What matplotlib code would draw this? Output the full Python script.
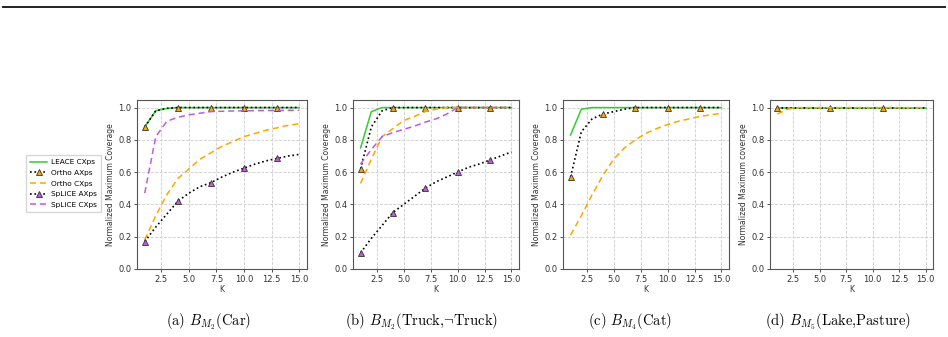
import matplotlib
matplotlib.use("Agg")
import matplotlib.pyplot as plt
from matplotlib.lines import Line2D

plt.rcParams['mathtext.fontset'] = 'cm'

K = list(range(1, 16))

# Panel (a)
a_leace_cx = [0.88, 0.98, 0.995, 1.0, 1.0, 1.0, 1.0, 1.0, 1.0, 1.0, 1.0, 1.0, 1.0, 1.0, 1.0]
a_ortho_ax = [0.88, 0.98, 0.995, 1.0, 1.0, 1.0, 1.0, 1.0, 1.0, 1.0, 1.0, 1.0, 1.0, 1.0, 1.0]
a_ortho_cx = [0.18, 0.33, 0.46, 0.56, 0.62, 0.68, 0.72, 0.76, 0.79, 0.82, 0.84, 0.86, 0.875, 0.89, 0.90]
a_splice_ax = [0.17, 0.26, 0.34, 0.42, 0.47, 0.51, 0.535, 0.57, 0.60, 0.625, 0.65, 0.67, 0.685, 0.70, 0.71]
a_splice_cx = [0.47, 0.82, 0.915, 0.94, 0.955, 0.965, 0.975, 0.977, 0.979, 0.98, 0.981, 0.982, 0.982, 0.983, 0.983]

# Panel (b)
b_leace_cx = [0.75, 0.975, 1.0, 1.0, 1.0, 1.0, 1.0, 1.0, 1.0, 1.0, 1.0, 1.0, 1.0, 1.0, 1.0]
b_ortho_ax = [0.62, 0.88, 0.98, 1.0, 1.0, 1.0, 1.0, 1.0, 1.0, 1.0, 1.0, 1.0, 1.0, 1.0, 1.0]
b_ortho_cx = [0.53, 0.68, 0.82, 0.87, 0.92, 0.945, 0.975, 0.99, 1.0, 1.0, 1.0, 1.0, 1.0, 1.0, 1.0]
b_splice_ax = [0.10, 0.19, 0.27, 0.35, 0.40, 0.45, 0.50, 0.54, 0.57, 0.60, 0.63, 0.65, 0.675, 0.70, 0.725]
b_splice_cx = [0.65, 0.74, 0.82, 0.845, 0.865, 0.885, 0.91, 0.93, 0.96, 1.0, 1.0, 1.0, 1.0, 1.0, 1.0]

# Panel (c)
c_leace_cx = [0.83, 0.99, 1.0, 1.0, 1.0, 1.0, 1.0, 1.0, 1.0, 1.0, 1.0, 1.0, 1.0, 1.0, 1.0]
c_ortho_ax = [0.57, 0.85, 0.93, 0.96, 0.975, 0.99, 1.0, 1.0, 1.0, 1.0, 1.0, 1.0, 1.0, 1.0, 1.0]
c_ortho_cx = [0.21, 0.33, 0.46, 0.58, 0.68, 0.75, 0.80, 0.84, 0.87, 0.895, 0.915, 0.93, 0.945, 0.955, 0.965]

# Panel (d)
d_leace_cx = [1.0] * 15
d_ortho_ax = [1.0] * 15
d_ortho_cx = [0.96, 0.99, 1.0, 1.0, 1.0, 1.0, 1.0, 1.0, 1.0, 1.0, 1.0, 1.0, 1.0, 1.0, 1.0]

captions = [r'(a) $B_{M_2}$(Car)', r'(b) $B_{M_2}$(Truck,$\neg$Truck)',
            r'(c) $B_{M_4}$(Cat)', r'(d) $B_{M_5}$(Lake,Pasture)']
ylabels = ['Normalized Maximum Coverage'] * 3 + ['Normalized Maximum coverage']

GREEN = '#33cc33'
ORANGE = '#ffa500'
PURPLE = '#c05ae0'

W, H = 948, 337
fig = plt.figure(figsize=(W / 100, H / 100), dpi=100)

boxes = [(137, 99.5, 307, 269), (353, 99.5, 519, 269), (563, 99.5, 729, 269), (770, 99.5, 933, 269)]
axes = []
for (l, t, r, b) in boxes:
    ax = fig.add_axes([l / W, 1 - b / H, (r - l) / W, (b - t) / H])
    axes.append(ax)

def style(ax, ylabel):
    ax.set_ylim(0, 1.05)
    ax.set_xlim(0.3, 15.7)
    ax.set_xticks([2.5, 5.0, 7.5, 10.0, 12.5, 15.0])
    ax.set_yticks([0.0, 0.2, 0.4, 0.6, 0.8, 1.0])
    ax.grid(True, linestyle='--', color='#cccccc', linewidth=0.6)
    ax.tick_params(labelsize=6, length=2.5, width=0.6, pad=1.5, colors='#333333')
    for s in ax.spines.values():
        s.set_color('#555555')
        s.set_linewidth(0.8)
    ax.set_xlabel('K', fontsize=5.5, labelpad=1, color='#333333')
    ax.set_ylabel(ylabel, fontsize=5.5, labelpad=2, color='#333333')

lw = 1.1
ms = 4
data = [
    (a_leace_cx, a_ortho_ax, a_ortho_cx, a_splice_ax, a_splice_cx, 3),
    (b_leace_cx, b_ortho_ax, b_ortho_cx, b_splice_ax, b_splice_cx, 3),
    (c_leace_cx, c_ortho_ax, c_ortho_cx, None, None, 3),
    (d_leace_cx, d_ortho_ax, d_ortho_cx, None, None, 5),
]
for i, (ax, (lc, oa, oc, sa, sc, me)) in enumerate(zip(axes, data)):
    ax.plot(K, lc, color=GREEN, lw=lw, label='LEACE CXps')
    ax.plot(K, oa, color='black', ls=':', lw=lw + 0.1, marker='^', markersize=ms,
            markerfacecolor=ORANGE, markeredgecolor='#333333', markeredgewidth=0.6,
            markevery=me, label='Ortho AXps')
    ax.plot(K, oc, color=ORANGE, ls='--', lw=lw, dashes=(4, 2.5), label='Ortho CXps')
    if sa is not None:
        ax.plot(K, sa, color='black', ls=':', lw=lw + 0.1, marker='^', markersize=ms,
                markerfacecolor=PURPLE, markeredgecolor='#333333', markeredgewidth=0.6,
                markevery=me, label='SpLiCE AXps')
        ax.plot(K, sc, color=PURPLE, ls='--', lw=lw, dashes=(4, 2.5), label='SpLiCE CXps')
    style(ax, ylabels[i])

handles, labels = axes[0].get_legend_handles_labels()
fig.legend(handles, labels, loc='upper left', bbox_to_anchor=(26 / W, 1 - 155 / H),
           fontsize=5.3, frameon=True, handlelength=2.3, borderpad=0.55,
           labelspacing=0.62, handletextpad=0.6, borderaxespad=0,
           edgecolor='#cccccc', fancybox=False)

cap_x = [209, 422, 630, 838]
for cx, cap in zip(cap_x, captions):
    fig.text(cx / W, 1 - 322 / H, cap, ha='center', va='center', fontsize=10.5,
             family='cmr10')

fig.add_artist(Line2D([3 / W, 945 / W], [1 - 6.5 / H, 1 - 6.5 / H], color='#222222', lw=1.4))

fig.savefig('out.png', dpi=100)
